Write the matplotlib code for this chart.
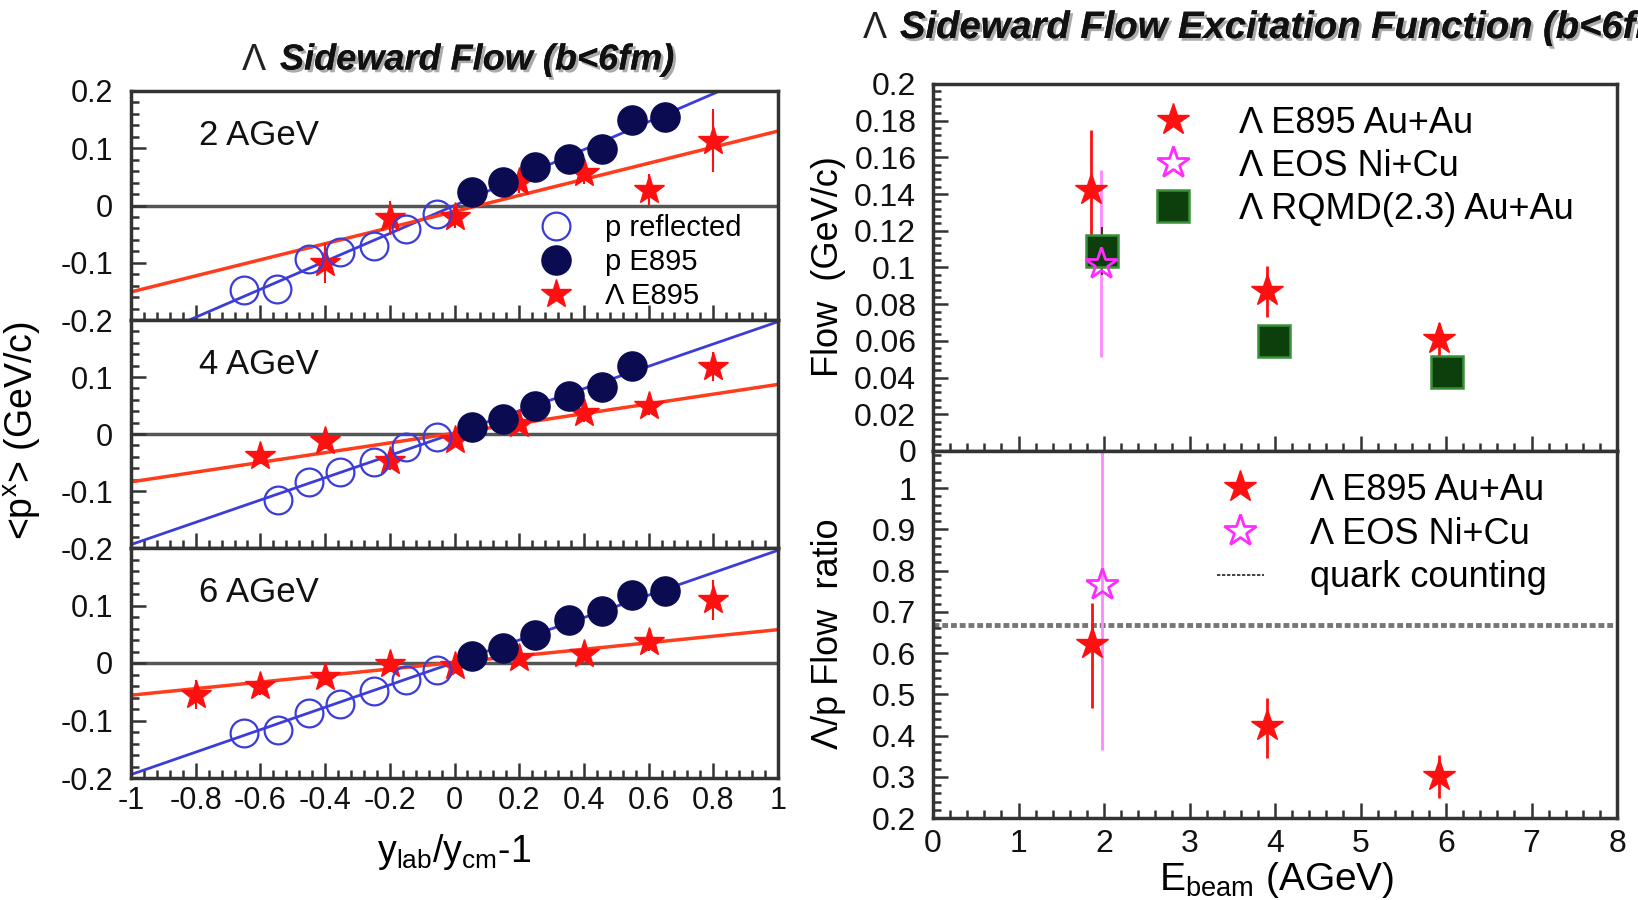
import matplotlib
matplotlib.use('Agg')
import matplotlib.pyplot as plt
import matplotlib.patheffects as pe
from matplotlib.ticker import MultipleLocator, FixedLocator, FuncFormatter
from matplotlib.lines import Line2D

plt.rcParams['font.family'] = ['Liberation Sans', 'DejaVu Sans']
plt.rcParams['mathtext.fontset'] = 'custom'
plt.rcParams['mathtext.rm'] = 'Liberation Sans'
plt.rcParams['mathtext.it'] = 'Liberation Sans:italic'
plt.rcParams['mathtext.bf'] = 'Liberation Sans:bold'
plt.rcParams['axes.unicode_minus'] = False

# ------------------------- data -------------------------
panel_labels = ['2 AGeV', '4 AGeV', '6 AGeV']

# 2 AGeV
p_refl_x_2 = [-0.65, -0.55, -0.45, -0.355, -0.25, -0.15, -0.055]
p_refl_y_2 = [-0.148, -0.145, -0.093, -0.081, -0.070, -0.041, -0.015]
p_x_2 = [0.055, 0.15, 0.25, 0.355, 0.455, 0.55, 0.65]
p_y_2 = [0.023, 0.041, 0.067, 0.081, 0.099, 0.150, 0.154]
lam_x_2 = [-0.4, -0.2, 0.0, 0.2, 0.4, 0.6, 0.8]
lam_y_2 = [-0.100, -0.022, -0.020, 0.041, 0.057, 0.027, 0.113]
lam_e_2 = [0.035, 0.030, 0.020, 0.020, 0.020, 0.028, 0.055]

# 4 AGeV
p_refl_x_4 = [-0.545, -0.45, -0.355, -0.25, -0.15, -0.055]
p_refl_y_4 = [-0.116, -0.084, -0.067, -0.049, -0.023, -0.006]
p_x_4 = [0.055, 0.15, 0.25, 0.355, 0.455, 0.55]
p_y_4 = [0.012, 0.026, 0.049, 0.067, 0.082, 0.119]
lam_x_4 = [-0.6, -0.4, -0.2, 0.0, 0.2, 0.4, 0.6, 0.8]
lam_y_4 = [-0.038, -0.012, -0.048, -0.010, 0.017, 0.036, 0.049, 0.118]
lam_e_4 = [0.015, 0.015, 0.015, 0.010, 0.012, 0.015, 0.015, 0.025]

# 6 AGeV
p_refl_x_6 = [-0.65, -0.545, -0.45, -0.355, -0.25, -0.15, -0.055]
p_refl_y_6 = [-0.122, -0.116, -0.087, -0.072, -0.049, -0.029, -0.012]
p_x_6 = [0.055, 0.15, 0.25, 0.355, 0.455, 0.55, 0.65]
p_y_6 = [0.012, 0.026, 0.049, 0.074, 0.090, 0.118, 0.125]
lam_x_6 = [-0.8, -0.6, -0.4, -0.2, 0.0, 0.2, 0.4, 0.6, 0.8]
lam_y_6 = [-0.055, -0.040, -0.024, -0.001, -0.006, 0.009, 0.016, 0.036, 0.110]
lam_e_6 = [0.025, 0.015, 0.015, 0.015, 0.012, 0.010, 0.012, 0.015, 0.035]

# linear fits (end points at x = -1 and x = 1)
fit_x = [-1.0, 1.0]
p_fit_y_2 = [-0.244, 0.244]
lam_fit_y_2 = [-0.151, 0.130]
p_fit_y_4 = [-0.194, 0.197]
lam_fit_y_4 = [-0.084, 0.087]
p_fit_y_6 = [-0.194, 0.196]
lam_fit_y_6 = [-0.056, 0.058]

# excitation function
e895_E = [1.85, 3.91, 5.92]
e895_flow = [0.142, 0.087, 0.061]
e895_flow_err = [0.033, 0.014, 0.009]
eos_E = [1.97]
eos_flow = [0.102]
eos_flow_err = [0.051]
rqmd_E = [1.98, 3.99, 6.01]
rqmd_flow = [0.109, 0.060, 0.043]
rqmd_flow_err = [0.013, 0.0, 0.0]

e895_ratio_E = [1.86, 3.91, 5.92]
e895_ratio = [0.622, 0.423, 0.302]
e895_ratio_err_lo = [0.155, 0.077, 0.053]
e895_ratio_err_hi = [0.100, 0.069, 0.050]
eos_ratio_E = [1.98]
eos_ratio = [0.765]
eos_ratio_err = [0.40]
quark_counting = 0.667

# ------------------------- style -------------------------
W, H = 1638, 900
fig = plt.figure(figsize=(W / 100, H / 100), dpi=100)
fig.patch.set_facecolor('white')

NAVY = '#0b0b52'
BLUE = '#3c3cd8'
RED = '#ff1010'
ORANGE = '#ff3c1c'
MAGENTA = '#ff2cff'
PINK = '#ff88ff'
DKGREEN = '#0c3f0c'
LTGREEN = '#3a8f3a'
SPINE = '#333333'


def ax_px(l, t, r, b):
    return fig.add_axes([l / W, 1 - b / H, (r - l) / W, (b - t) / H])


def style_axes(ax, fs):
    for s in ax.spines.values():
        s.set_color(SPINE)
        s.set_linewidth(2.5)
    ax.tick_params(which='both', direction='in', top=False, right=False,
                   color=SPINE, width=1.8, labelsize=fs, labelcolor='#111111')
    ax.tick_params(which='major', length=11)
    ax.tick_params(which='minor', length=6)


def fmt(v, pos=None):
    if abs(v) < 1e-9:
        return '0'
    return ('%g' % round(v, 3))


# ------------------------- left panels -------------------------
left_data = [
    (p_refl_x_2, p_refl_y_2, p_x_2, p_y_2, lam_x_2, lam_y_2, lam_e_2, p_fit_y_2, lam_fit_y_2),
    (p_refl_x_4, p_refl_y_4, p_x_4, p_y_4, lam_x_4, lam_y_4, lam_e_4, p_fit_y_4, lam_fit_y_4),
    (p_refl_x_6, p_refl_y_6, p_x_6, p_y_6, lam_x_6, lam_y_6, lam_e_6, p_fit_y_6, lam_fit_y_6),
]
bounds = [(91, 320), (320, 548), (548, 778)]

for i, (d, (t, b)) in enumerate(zip(left_data, bounds)):
    prx, pry, px, py, lx, ly, le, pfit, lfit = d
    ax = ax_px(131, t, 778, b)
    ax.set_xlim(-1, 1)
    ax.set_ylim(-0.2, 0.2)
    style_axes(ax, 22)
    ax.axhline(0, color='#555555', lw=2.5, zorder=1)
    ax.plot(fit_x, pfit, color=BLUE, lw=2, zorder=2)
    ax.plot(fit_x, lfit, color=ORANGE, lw=2.5, zorder=2)
    ax.errorbar(lx, ly, yerr=le, fmt='none', ecolor=RED, elinewidth=1.5, zorder=3)
    h_lam, = ax.plot(lx, ly, ls='none', marker='*', ms=22, color=RED, mec=RED, zorder=3)
    h_refl, = ax.plot(prx, pry, ls='none', marker='o', ms=20, mfc='none', mec=BLUE, mew=1.6, zorder=4)
    h_p, = ax.plot(px, py, ls='none', marker='o', ms=21, mfc=NAVY, mec=NAVY, zorder=4)
    ax.text(-0.79, 0.122, panel_labels[i], fontsize=25, va='center', ha='left', color='#111111')

    ax.xaxis.set_major_locator(MultipleLocator(0.2))
    ax.xaxis.set_minor_locator(MultipleLocator(0.04))
    ax.xaxis.set_major_formatter(FuncFormatter(fmt))
    if i == 0:
        ax.yaxis.set_major_locator(FixedLocator([-0.2, -0.1, 0.0, 0.1, 0.2]))
    else:
        ax.yaxis.set_major_locator(FixedLocator([-0.2, -0.1, 0.0, 0.1]))
    ax.yaxis.set_minor_locator(MultipleLocator(0.02))
    ax.yaxis.set_major_formatter(FuncFormatter(fmt))
    ax.tick_params(axis='y', pad=13)
    ax.tick_params(axis='x', pad=6)
    if i < 2:
        ax.tick_params(axis='x', labelbottom=False)
    if i == 0:
        ax.legend([h_refl, h_p, h_lam], ['p reflected', 'p E895', '\u039b E895'],
                  loc='upper left', bbox_to_anchor=(0.634, 0.462), frameon=False,
                  fontsize=21, handlelength=1.0, handletextpad=1.2, labelspacing=0.2,
                  borderpad=0, borderaxespad=0, numpoints=1)

# ------------------------- right panels -------------------------
axt = ax_px(933, 84, 1617, 451)
axt.set_xlim(0, 8)
axt.set_ylim(0, 0.2)
style_axes(axt, 23)
axt.errorbar(e895_E, e895_flow, yerr=e895_flow_err, fmt='none', ecolor=RED, elinewidth=2, zorder=3)
axt.errorbar(eos_E, eos_flow, yerr=eos_flow_err, fmt='none', ecolor=PINK, elinewidth=2, zorder=2)
axt.errorbar(rqmd_E, rqmd_flow, yerr=rqmd_flow_err, fmt='none', ecolor='#4a3a10', elinewidth=1.5, zorder=4)
h1, = axt.plot(e895_E, e895_flow, ls='none', marker='*', ms=24, color=RED, zorder=3)
h3, = axt.plot(rqmd_E, rqmd_flow, ls='none', marker='s', ms=23, mfc=DKGREEN, mec=LTGREEN, mew=1.8, zorder=4)
h2, = axt.plot(eos_E, eos_flow, ls='none', marker='*', ms=24, mfc='none', mec=MAGENTA, mew=2, zorder=5)
axt.xaxis.set_major_locator(MultipleLocator(1))
axt.xaxis.set_minor_locator(MultipleLocator(0.2))
axt.yaxis.set_major_locator(MultipleLocator(0.02))
axt.yaxis.set_minor_locator(MultipleLocator(0.004))
axt.yaxis.set_major_formatter(FuncFormatter(fmt))
axt.tick_params(axis='x', labelbottom=False)
axt.tick_params(axis='y', pad=12)
axt.legend([h1, h2, h3], ['\u039b E895 Au+Au', '\u039b EOS Ni+Cu', '\u039b RQMD(2.3) Au+Au'],
           loc='upper left', bbox_to_anchor=(0.325, 0.94), frameon=False,
           fontsize=26, handlelength=1.0, handletextpad=1.33, labelspacing=0.22,
           borderpad=0, borderaxespad=0, numpoints=1)

axb = ax_px(933, 451, 1617, 818)
axb.set_xlim(0, 8)
axb.set_ylim(0.2, 1.09)
style_axes(axb, 23)
axb.axhline(quark_counting, color='#777777', lw=3.5, ls=(0, (1.2, 0.6)), zorder=1)
axb.errorbar(e895_ratio_E, e895_ratio, yerr=[e895_ratio_err_lo, e895_ratio_err_hi], fmt='none',
             ecolor=RED, elinewidth=2, zorder=3)
axb.errorbar(eos_ratio_E, eos_ratio, yerr=eos_ratio_err, fmt='none', ecolor=PINK, elinewidth=2, zorder=2)
hb1, = axb.plot(e895_ratio_E, e895_ratio, ls='none', marker='*', ms=24, color=RED, zorder=3)
hb2, = axb.plot(eos_ratio_E, eos_ratio, ls='none', marker='*', ms=24, mfc='none', mec=MAGENTA, mew=2, zorder=5)
axb.xaxis.set_major_locator(MultipleLocator(1))
axb.xaxis.set_minor_locator(MultipleLocator(0.2))
axb.yaxis.set_major_locator(FixedLocator([0.2, 0.3, 0.4, 0.5, 0.6, 0.7, 0.8, 0.9, 1.0]))
axb.yaxis.set_minor_locator(MultipleLocator(0.02))
axb.yaxis.set_major_formatter(FuncFormatter(fmt))
axb.xaxis.set_major_formatter(FuncFormatter(fmt))
axb.tick_params(axis='y', pad=12)
axb.tick_params(axis='x', pad=8)
hq_leg = Line2D([], [], color='#222222', lw=1.2, ls=(0, (2, 1)))
axb.legend([hb1, hb2, hq_leg], ['\u039b E895 Au+Au', '\u039b EOS Ni+Cu', 'quark counting'],
           loc='upper left', bbox_to_anchor=(0.415, 0.94), frameon=False,
           fontsize=26, handlelength=1.3, handletextpad=1.28, labelspacing=0.24,
           borderpad=0, borderaxespad=0, numpoints=1)

# ------------------------- labels & titles -------------------------
def ftext(x, y, s, **kw):
    return fig.text(x / W, 1 - y / H, s, **kw)

shadow = [pe.withSimplePatchShadow(offset=(2, -2), shadow_rgbFace='#888888', alpha=0.7), pe.Normal()]

ftext(242, 60, '\u039b', fontsize=26, ha='left', va='center', color='#222222')
ftext(280, 60, 'Sideward Flow (b<6fm)', fontsize=26, ha='left', va='center',
      fontweight='bold', fontstyle='italic', color='#111111', path_effects=shadow)
ftext(863, 28, '\u039b', fontsize=26, ha='left', va='center', color='#222222')
ftext(900, 28, 'Sideward Flow Excitation Function (b<6fm)', fontsize=27.5, ha='left', va='center',
      fontweight='bold', fontstyle='italic', color='#111111', path_effects=shadow)

ftext(22, 431, r'<p$^{\mathrm{x}}$> (GeV/c)', fontsize=27, rotation=90, ha='center', va='center')
ftext(454, 862, r'y$_{\mathrm{lab}}$/y$_{\mathrm{cm}}$-1', fontsize=27, ha='center', va='baseline')
ftext(828, 267, 'Flow  (GeV/c)', fontsize=26, rotation=90, ha='center', va='center')
ftext(828, 634, '\u039b/p Flow  ratio', fontsize=26, rotation=90, ha='center', va='center')
ftext(1277, 890, r'E$_{\mathrm{beam}}$ (AGeV)', fontsize=28, ha='center', va='baseline')

fig.savefig('out.png', dpi=100)
